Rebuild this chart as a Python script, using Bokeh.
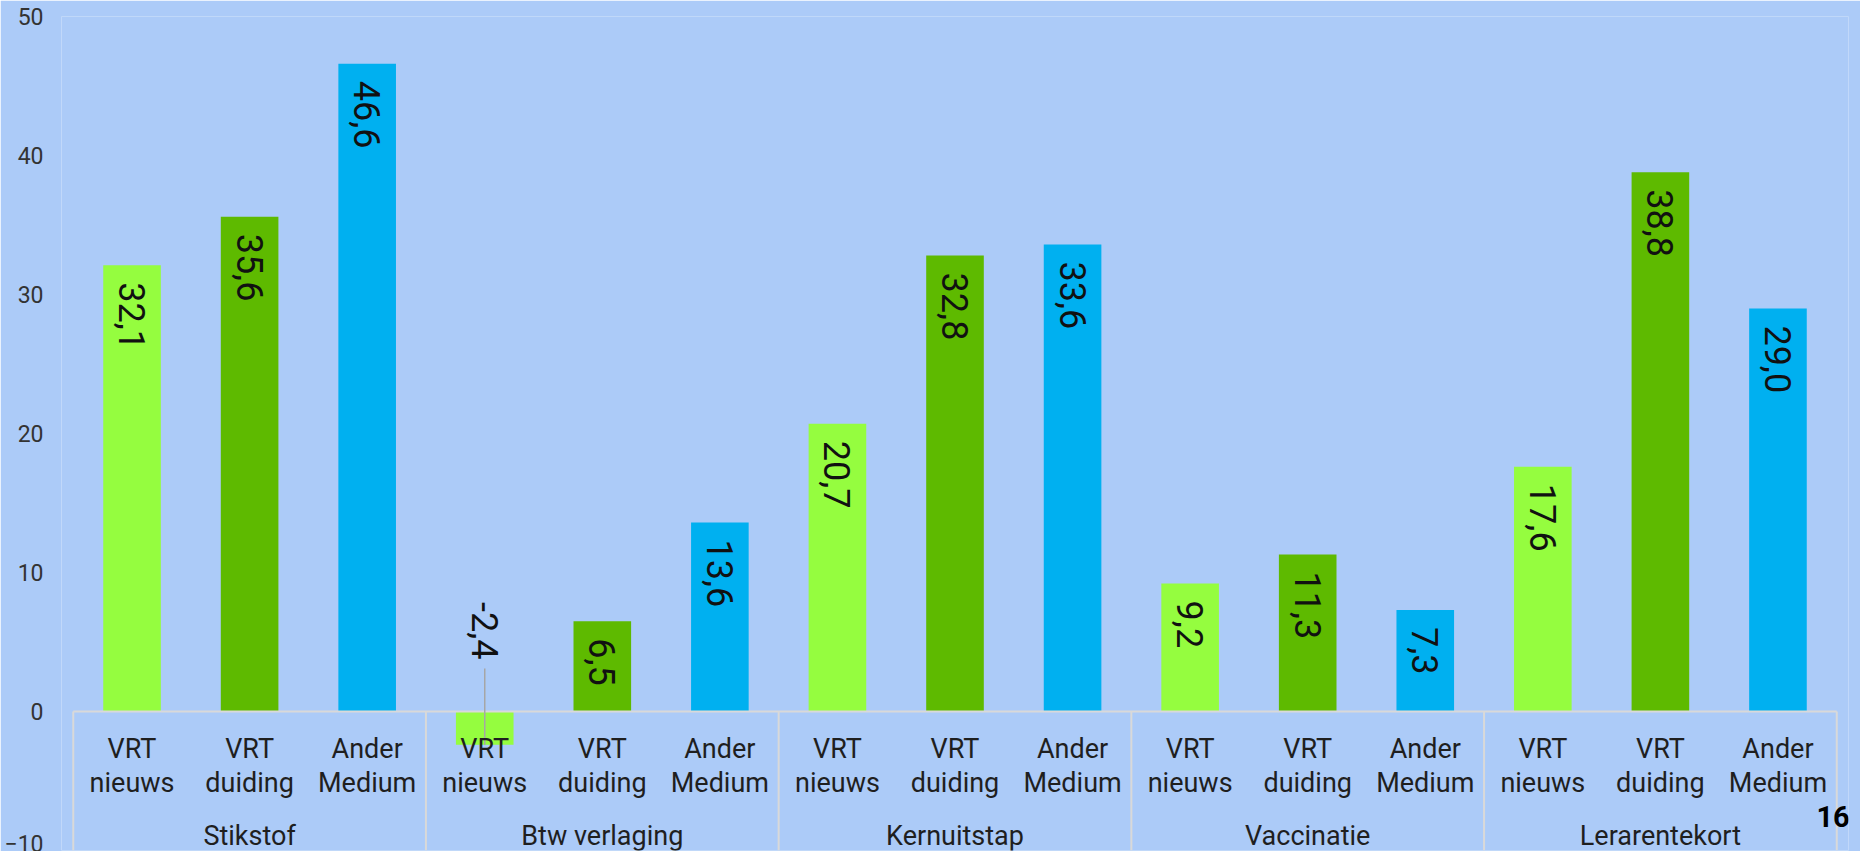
import math
from bokeh.plotting import figure
from bokeh.models import FactorRange, ColumnDataSource, FixedTicker, Label
from bokeh.core.properties import value
from bokeh.embed import file_html
from bokeh.resources import INLINE

# ---- data ----
groups = ["Stikstof", "Btw verlaging", "Kernuitstap", "Vaccinatie", "Lerarentekort"]
series = ["VRT nieuws", "VRT duiding", "Ander Medium"]
vrt_nieuws = [32.1, -2.4, 20.7, 9.2, 17.6]
vrt_duiding = [35.6, 6.5, 32.8, 11.3, 38.8]
ander_medium = [46.6, 13.6, 33.6, 7.3, 29.0]
y_ticks = [-10, 0, 10, 20, 30, 40, 50]
page_number = "16"

colors = ["#95FD3F", "#5EBA00", "#00B0F0"]
BG = "#ACCBF8"
FONT = value("Roboto")

values_by_series = [vrt_nieuws, vrt_duiding, ander_medium]

xs, tops, fills = [], [], []
for gi, g in enumerate(groups):
    for si, s in enumerate(series):
        xs.append((g, s))
        tops.append(values_by_series[si][gi])
        fills.append(colors[si])

def fmt(v):
    return f"{v:.1f}".replace(".", ",")

n = len(series)
n_total = n * len(groups)

W, H = 1860, 851
TOP, BOTTOM = 16, 1
FRAME_H = H - TOP - BOTTOM
x_range = FactorRange(*xs, factor_padding=0, group_padding=0,
                      range_padding=0.1, range_padding_units="absolute")

p = figure(
    x_range=x_range,
    y_range=(-10, 50),
    width=W, height=H,
    output_backend="svg", toolbar_location=None,
    x_axis_location=None,
    min_border_left=61, min_border_right=12, min_border_top=TOP, min_border_bottom=BOTTOM,
)
p.background_fill_color = BG
p.border_fill_color = BG
p.outline_line_color = None
p.grid.visible = False

ya = p.yaxis[0]
ya.ticker = FixedTicker(ticks=y_ticks)
ya.axis_line_color = None
ya.major_tick_line_color = None
ya.minor_tick_line_color = None
ya.major_tick_in = 0
ya.major_tick_out = 0
ya.major_label_standoff = 18
ya.major_label_text_font = "Roboto"
ya.major_label_text_font_size = "23px"
ya.major_label_text_color = "#333333"

# bars
src = ColumnDataSource(dict(x=xs, top=tops, fill=fills))
p.vbar(x="x", top="top", bottom=0, width=0.49, fill_color="fill", line_color=None, source=src)

# axis line at zero and group separators
p.segment(x0=[0], x1=[n_total], y0=[0], y1=[0], line_color="#D9D9D9", line_width=2)
bounds = [i * n for i in range(len(groups) + 1)]
p.segment(x0=bounds, x1=bounds, y0=[0] * len(bounds), y1=[-10] * len(bounds),
          line_color="#D9D9D9", line_width=2)

# value labels
units_per_px = 60 / FRAME_H
pos = [(x, t) for x, t in zip(xs, tops) if t >= 0]
neg = [(x, t) for x, t in zip(xs, tops) if t < 0]
p.text(x=[a for a, _ in pos], y=[t - 17 * units_per_px for _, t in pos],
       text=[fmt(t) for _, t in pos], angle=-math.pi / 2,
       text_align="left", text_baseline="middle",
       text_font=FONT, text_font_size="36px", text_color="#111111")
p.text(x=[a for a, _ in neg], y=[52 * units_per_px for _ in neg],
       text=[fmt(t) for _, t in neg], angle=-math.pi / 2,
       text_align="right", text_baseline="middle",
       text_font=FONT, text_font_size="36px", text_color="#111111")
p.segment(x0=[a for a, _ in neg], x1=[a for a, _ in neg],
          y0=[43 * units_per_px for _ in neg], y1=[t for _, t in neg],
          line_color="#A6A6A6", line_width=1.5)

# category labels
line1 = [s.split(" ")[0] for _, s in xs]
line2 = [s.split(" ")[1] for _, s in xs]
p.text(x=xs, y=[-37 * units_per_px] * len(xs), text=line1,
       text_align="center", text_baseline="middle",
       text_font=FONT, text_font_size="27px", text_color="#1F1F1F")
p.text(x=xs, y=[-71 * units_per_px] * len(xs), text=line2,
       text_align="center", text_baseline="middle",
       text_font=FONT, text_font_size="27px", text_color="#1F1F1F")
p.text(x=[(g, series[1]) for g in groups], y=[-124 * units_per_px] * len(groups), text=groups,
       text_align="center", text_baseline="middle",
       text_font=FONT, text_font_size="27px", text_color="#1F1F1F")

# page number
p.add_layout(Label(x=n_total, y=-105 * units_per_px, x_offset=13, text=page_number,
                   text_align="right", text_baseline="middle", text_font="Roboto",
                   text_font_size="29px", text_font_style="bold", text_color="#000000"))

open("out.html", "w").write(file_html(p, INLINE))
